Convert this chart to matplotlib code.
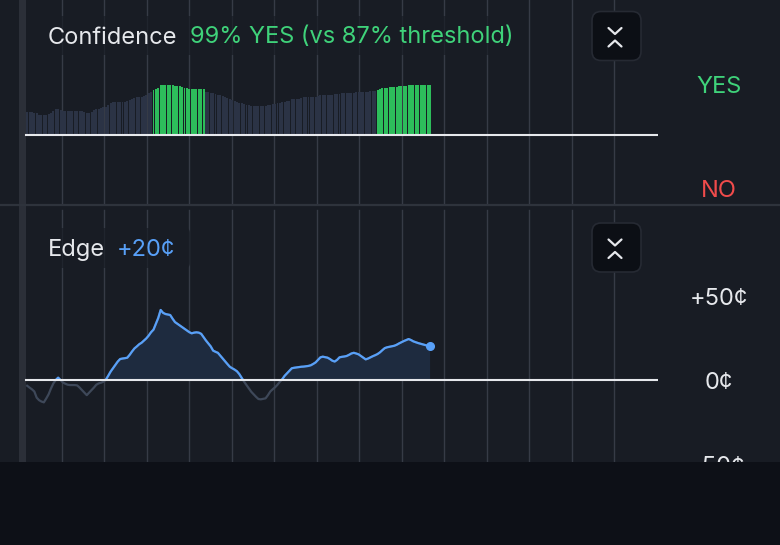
import numpy as np
import matplotlib.pyplot as plt
from matplotlib.patches import Rectangle, FancyBboxPatch

plt.rcParams['font.family'] = ['Inter', 'DejaVu Sans']

# confidence per step (%), bars rise from the 50% line
conf = [
    73, 73, 73, 72.5, 71.8, 70, 70, 70, 70.5, 71,
    72.3, 74, 76, 76, 75, 74, 74, 74, 74, 74,
    74, 74, 74, 73.5, 73, 72.3, 72.3, 73, 74.5, 75.7,
    75.7, 76.5, 78, 78, 80, 82, 82.5, 83, 83, 83,
    83, 83, 83.5, 84.5, 86, 87, 88, 88, 88, 88.5,
    90, 92, 92.8, 94.5, 96, 97, 99, 99.8, 99.8, 99.8,
    99.5, 99, 98.3, 98, 98, 97.5, 97, 96.5, 95.5, 95.3,
    95.5, 96, 96, 95.8, 95.5, 93, 92.5, 91.8, 91.4, 91,
    90, 89.5, 88.5, 87.5, 87, 86, 85, 84, 83, 82.3,
    81.5, 80.6, 80, 79.5, 79, 78.8, 78.8, 78.8, 79, 79,
    79.2, 79.5, 80, 80.5, 81, 81.5, 82, 82.5, 83, 83.5,
    84, 85.5, 85.8, 86, 86, 86.3, 87.5, 87.5, 87.5, 87.5,
    87.3, 87.5, 88.5, 89.2, 89.5, 89.7, 89.7, 90, 90, 90.2,
    90.5, 91, 91.3, 91.4, 91.4, 91.6, 91.8, 92, 92.2, 92.5,
    92.7, 92.8, 93, 93, 93.2, 93.3, 93.3, 95, 95.5, 96.5,
    96.8, 97, 97.2, 97.5, 97.6, 97.8, 98, 98, 98.2, 98.6,
    99, 99.3, 99.5, 99.6, 99.7, 99.8, 99.8, 99.8, 99.8, 99.8,
]

# edge per step (cents)
edge = [
    -3.4, -4.5, -5.5, -6.8, -10.5, -12, -12.8, -13.3, -11, -8.5,
    -5, -2, 0, 1.4, 0, -1.5, -2.2, -2.8, -3, -3,
    -3, -3.2, -4.5, -6, -7.5, -9, -7.5, -6, -4.5, -2.8,
    -2, -1.6, -1, 0.2, 2.5, 5, 7, 9, 11, 12.5,
    12.8, 13, 13.3, 15, 17, 18.8, 20, 21.3, 22.2, 23.5,
    24.8, 26.5, 28.5, 30, 33.5, 37, 41.7, 40, 39.3, 39,
    38.7, 36.5, 34.5, 33.5, 32.5, 31.5, 30.5, 29.5, 28.5, 27.8,
    28.2, 28.4, 28.2, 27.5, 25.5, 23.5, 21.8, 20, 17.5, 16.8,
    16.2, 14.5, 12.8, 11, 9.5, 7.9, 7, 6.2, 5.2, 3.5,
    1.2, -1, -3, -5, -7, -8.5, -10, -11.3, -11.5, -11.2,
    -10.9, -9, -6.8, -5.5, -4.3, -2.8, -1, 0.5, 2.5, 4,
    5.5, 7, 7.3, 7.5, 7.7, 7.9, 8, 8.2, 8.4, 8.8,
    9.6, 10.5, 12, 13.5, 13.9, 13.6, 13.3, 12.5, 11.5, 11,
    12, 13.5, 13.8, 14, 14.3, 15, 15.8, 16.2, 15.8, 15.3,
    14.3, 13.3, 12.3, 12.8, 13.5, 14.2, 14.8, 15.5, 16.5, 17.8,
    19, 19.5, 19.8, 20.1, 20.4, 21, 21.8, 22.5, 23.2, 23.8,
    24.4, 23.8, 23, 22.5, 22, 21.6, 21.2, 20.8, 20.4, 20,
]

threshold = 87
green_cut = 94
conf = np.array(conf)
edge = np.array(edge)
t = 0.18 + np.arange(len(conf)) * 0.0561   # time in grid units

BG = '#181c24'
GRID = '#363b46'
WHITE = '#e6e8ec'
GREEN = '#3fd27a'
BAR_GREEN = '#2dbd5b'
BAR_DARK = '#2b3345'
BLUE = '#58a0f8'
GREY_LINE = '#3e4859'
RED = '#f04b4b'
FS = 17

W, H = 780, 545
fig = plt.figure(figsize=(7.8, 5.45), dpi=100)
fig.patch.set_facecolor(BG)

def px_axes(x0, y0, x1, y1):
    return fig.add_axes([x0 / W, 1 - y1 / H, (x1 - x0) / W, (y1 - y0) / H])

def side_label(ax, y, text, color):
    # centred on the level: baseline half a cap height below it
    ax.annotate(text, (16.45, y), xytext=(0, -6.2), textcoords='offset points',
                ha='center', va='baseline', color=color, fontsize=FS,
                annotation_clip=False)

# background chrome
bg = fig.add_axes([0, 0, 1, 1])
bg.set_xlim(0, W)
bg.set_ylim(H, 0)
bg.axis('off')
bg.add_patch(Rectangle((19, 0), 6.5, 462, color='#2b2f38', lw=0))
bg.plot([0, W], [204.5, 204.5], color='#2e333c', lw=1.6)

XMAX = 15.012

# ---- confidence panel
ax1 = px_axes(19.5, 0, 657.5, 204)
ax1.set_xlim(0, XMAX)
ax1.set_ylim(-17.2, 182.8)
ax1.axis('off')
for k in range(1, 15):
    ax1.axvline(k, color=GRID, lw=1.0, zorder=0)
colors = [BAR_GREEN if v >= green_cut else BAR_DARK for v in conf]
ax1.bar(t, conf - 50, bottom=50, width=0.046, color=colors, lw=0, zorder=2)
ax1.axhline(50, xmin=0.0102, xmax=1, color=WHITE, lw=1.5, zorder=3)
side_label(ax1, 100, 'YES', GREEN)
side_label(ax1, -1.5, 'NO', RED)

# ---- edge panel
ax2 = px_axes(19.5, 205, 657.5, 462)
ax2.set_xlim(0, XMAX)
ax2.set_ylim(-48.8, 104.2)
ax2.axis('off')
for k in range(1, 15):
    ax2.axvline(k, ymin=0, ymax=0.9805, color=GRID, lw=1.0, zorder=0)
ax2.fill_between(t, 0, edge, where=edge >= 0, interpolate=True,
                 color='#1e2b3f', lw=0, zorder=1)
ax2.plot(t, edge, color=GREY_LINE, lw=1.6, zorder=2)
blue_line, = ax2.plot(t, edge, color=BLUE, lw=1.6, zorder=3)
clip = Rectangle((-1, 0), 20, 200, transform=ax2.transData)
blue_line.set_clip_path(clip)
ax2.axhline(0, xmin=0.0102, xmax=1, color=WHITE, lw=1.5, zorder=4)
ax2.plot(t[-1], edge[-1], 'o', color=BLUE, ms=5.5, zorder=5)
for v, lab in [(50, '+50¢'), (0, '0¢'), (-50, '-50¢')]:
    side_label(ax2, v, lab, WHITE)

# ---- overlay: title boxes, buttons
ov = fig.add_axes([0, 0, 1, 1], zorder=5)
ov.set_xlim(0, W)
ov.set_ylim(H, 0)
ov.axis('off')
ov.add_patch(FancyBboxPatch((36, 16), 492, 39, boxstyle='round,pad=0,rounding_size=5',
                            fc=BG, ec='none', alpha=0.7))
ov.add_patch(FancyBboxPatch((36, 228), 154, 40, boxstyle='round,pad=0,rounding_size=5',
                            fc=BG, ec='none', alpha=0.7))
ov.text(48, 43.5, 'Confidence', color=WHITE, fontsize=FS, va='baseline', ha='left')
ov.text(190, 43.5, f'99% YES (vs {threshold}% threshold)', color=GREEN, fontsize=FS,
        va='baseline', ha='left')
ov.text(48, 256, 'Edge', color=WHITE, fontsize=FS, va='baseline', ha='left')
ov.text(117, 256, f'+{edge[-1]:.0f}¢', color=BLUE, fontsize=FS, va='baseline', ha='left')

for top in (11.5, 223):
    ov.add_patch(FancyBboxPatch((592, top), 49, 49, boxstyle='round,pad=0,rounding_size=9',
                                fc='#0c0f15', ec='#262a33', lw=1.2))
    ov.plot([608.5, 615, 621.5], [top + 16.5, top + 22.5, top + 16.5],
            color=WHITE, lw=1.6, solid_capstyle='round')
    ov.plot([608.5, 615, 621.5], [top + 35, top + 29, top + 35],
            color=WHITE, lw=1.6, solid_capstyle='round')

# ---- bottom band
band = px_axes(0, 462, 780, 545)
band.set_zorder(10)
band.axis('off')
band.add_patch(Rectangle((0, 0), 1, 1, transform=band.transAxes, color='#0d1017', lw=0))

fig.savefig('out.png', dpi=100, facecolor=fig.get_facecolor())
